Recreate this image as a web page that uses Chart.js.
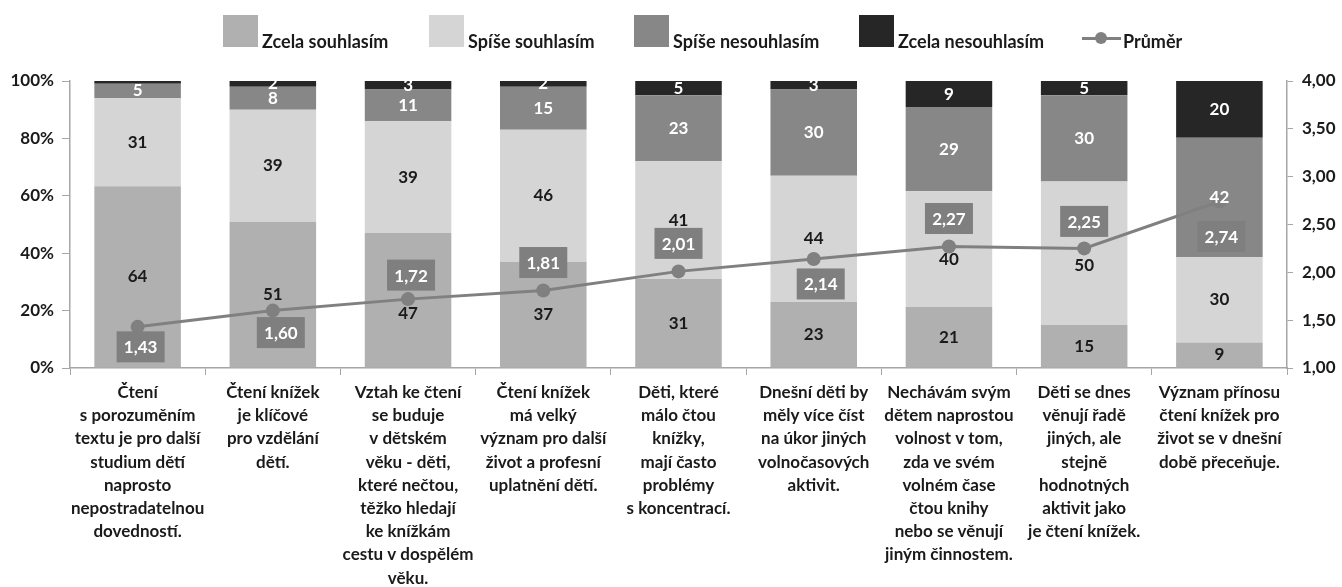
<!DOCTYPE html>
<html lang="cs">
<head>
<meta charset="utf-8">
<title>Čtení knížek</title>
<script src="https://cdn.jsdelivr.net/npm/chart.js@4/dist/chart.umd.min.js"></script>
<style>
    html, body { margin: 0; padding: 0; background: #fff; }
    #wrap { position: relative; width: 1342px; height: 587px; }
    #legend { position: absolute; top: 15px; left: 0; width: 1342px; height: 32px;
              font: bold 18px Lato, "Open Sans", sans-serif; color: #1a1a1a; }
    #legend .item { position: absolute; top: 0; height: 32px; display: flex; align-items: flex-end; white-space: nowrap; }
    #legend .box { width: 35px; height: 32px; margin-right: 4px; }
    #legend .txt { line-height: 18px; margin-bottom: -3px; }
    #legend .line { width: 39px; height: 12px; position: relative; margin-right: 2px; margin-bottom: 3px; }
    #legend .line::before { content: ''; position: absolute; left: 0; right: 0; top: 5px; height: 3px; background: #808080; }
    #legend .line::after { content: ''; position: absolute; left: 13px; top: 0; width: 12px; height: 12px; border-radius: 50%; background: #808080; }
</style>
</head>
<body>
<div id="wrap">
    <canvas id="chart" width="1342" height="587"></canvas>
    <div id="legend"></div>
</div>
<script>
// --- data ---
const categories = [
    ['Čtení', 's porozuměním', 'textu je pro další', 'studium dětí', 'naprosto', 'nepostradatelnou', 'dovedností.'],
    ['Čtení knížek', 'je klíčové', 'pro vzdělání', 'dětí.'],
    ['Vztah ke čtení', 'se buduje', 'v dětském', 'věku - děti,', 'které nečtou,', 'těžko hledají', 'ke knížkám', 'cestu v dospělém', 'věku.'],
    ['Čtení knížek', 'má velký', 'význam pro další', 'život a profesní', 'uplatnění dětí.'],
    ['Děti, které', 'málo čtou', 'knížky,', 'mají často', 'problémy', 's koncentrací.'],
    ['Dnešní děti by', 'měly více číst', 'na úkor jiných', 'volnočasových', 'aktivit.'],
    ['Nechávám svým', 'dětem naprostou', 'volnost v tom,', 'zda ve svém', 'volném čase', 'čtou knihy', 'nebo se věnují', 'jiným činnostem.'],
    ['Děti se dnes', 'věnují řadě', 'jiných, ale', 'stejně', 'hodnotných', 'aktivit jako', 'je čtení knížek.'],
    ['Význam přínosu', 'čtení knížek pro', 'život se v dnešní', 'době přeceňuje.']
];
const zcelaSouhlasim   = [64, 51, 47, 37, 31, 23, 21, 15, 9];
const spiseSouhlasim   = [31, 39, 39, 46, 41, 44, 40, 50, 30];
const spiseNesouhlasim = [5, 8, 11, 15, 23, 30, 29, 30, 42];
const zcelaNesouhlasim = [1, 2, 3, 2, 5, 3, 9, 5, 20];
const prumer           = [1.43, 1.60, 1.72, 1.81, 2.01, 2.14, 2.27, 2.25, 2.74];

const leftTicks  = { min: 0, max: 100, step: 20 };
const rightTicks = { min: 1, max: 4, step: 0.5 };

// label placement for the average boxes (offset from point, px)
const avgLabelShift = [[3, 20], [8, 22], [3, -24], [0, -28], [0, -28], [7, 25], [0, -28], [0, -27], [2, 35]];
// a few segment labels sit a bit lower than centre ("series-category": px)
const segLabelNudge = { '0-2': 13, '1-6': 10, '1-7': 12 };
// legend item left edges
const legendLeft = [223, 429, 634, 859, 1082];

const FONT = 'Lato, "Open Sans", sans-serif';
const INK = '#1a1a1a';
const AXIS = '#a6a6a6';

const barSeries = [
    { label: 'Zcela souhlasím',   values: zcelaSouhlasim,   color: '#b0b0b0', text: INK },
    { label: 'Spíše souhlasím',   values: spiseSouhlasim,   color: '#d5d5d5', text: INK },
    { label: 'Spíše nesouhlasím', values: spiseNesouhlasim, color: '#878787', text: '#ffffff' },
    { label: 'Zcela nesouhlasím', values: zcelaNesouhlasim, color: '#262626', text: '#ffffff' }
];
const lineColor = '#808080';

// 100 % stacked: each category normalised by its own total
const totals = categories.map((_, i) => barSeries.reduce((acc, s) => acc + s.values[i], 0));

// --- legend (html) ---
const legendEl = document.getElementById('legend');
barSeries.forEach((s, i) => {
    legendEl.insertAdjacentHTML('beforeend',
        `<div class="item" style="left:${legendLeft[i]}px"><div class="box" style="background:${s.color}"></div><span class="txt">${s.label}</span></div>`);
});
legendEl.insertAdjacentHTML('beforeend',
    `<div class="item" style="left:${legendLeft[4]}px"><div class="line"></div><span class="txt">Průměr</span></div>`);

const labelsPlugin = {
    id: 'valueLabels',
    afterDatasetsDraw(chart) {
        const ctx = chart.ctx;
        ctx.save();
        ctx.textAlign = 'center';
        ctx.textBaseline = 'middle';
        ctx.font = `bold 17px ${FONT}`;

        barSeries.forEach((s, di) => {
            const meta = chart.getDatasetMeta(di);
            meta.data.forEach((bar, i) => {
                const v = s.values[i];
                if (v < 2) return;
                const nudge = segLabelNudge[di + '-' + i] || 0;
                ctx.fillStyle = s.text;
                ctx.fillText(String(v), bar.x, (bar.y + bar.base) / 2 + nudge);
            });
        });

        const lineMeta = chart.getDatasetMeta(barSeries.length);
        lineMeta.data.forEach((pt, i) => {
            const [dx, dy] = avgLabelShift[i];
            const cx = pt.x + dx, cy = pt.y + dy;
            ctx.fillStyle = '#7f7f7f';
            ctx.fillRect(cx - 24, cy - 15.5, 48, 31);
            ctx.fillStyle = '#ffffff';
            ctx.fillText(prumer[i].toFixed(2).replace('.', ','), cx, cy + 1);
        });
        ctx.restore();
    }
};

const tickFont = { family: FONT, size: 17, weight: 'bold' };

new Chart(document.getElementById('chart').getContext('2d'), {
    type: 'bar',
    data: {
        labels: categories,
        datasets: [
            ...barSeries.map(s => ({
                label: s.label,
                data: s.values.map((v, i) => v / totals[i] * 100),
                backgroundColor: s.color,
                borderWidth: 0,
                stack: 'answers',
                yAxisID: 'y',
                order: 1,
                categoryPercentage: 1,
                barPercentage: 0.64
            })),
            {
                type: 'line',
                label: 'Průměr',
                data: prumer,
                yAxisID: 'y2',
                borderColor: lineColor,
                backgroundColor: lineColor,
                borderWidth: 3,
                pointRadius: 7,
                pointBackgroundColor: lineColor,
                pointBorderWidth: 0,
                tension: 0,
                order: 0
            }
        ]
    },
    options: {
        responsive: false,
        animation: false,
        events: [],
        layout: { padding: { top: 81, left: 0, right: 0, bottom: 0 } },
        plugins: {
            legend: { display: false },
            tooltip: { enabled: false }
        },
        scales: {
            x: {
                stacked: true,
                grid: { offset: true, drawOnChartArea: false, color: AXIS, tickLength: 7 },
                border: { color: AXIS, width: 1.5 },
                ticks: {
                    color: INK,
                    font: { family: FONT, size: 17, weight: 'bold', lineHeight: '23.2px' },
                    maxRotation: 0,
                    autoSkip: false,
                    padding: 6
                },
                afterFit: s => { s.height = 219; }
            },
            y: {
                stacked: true,
                position: 'left',
                min: leftTicks.min,
                max: leftTicks.max,
                grid: { drawOnChartArea: false, color: AXIS, tickLength: 8 },
                border: { color: AXIS, width: 1.5 },
                ticks: {
                    stepSize: leftTicks.step,
                    color: INK,
                    font: tickFont,
                    padding: 8,
                    callback: v => v + '%'
                },
                afterFit: s => { s.width = 70; }
            },
            y2: {
                position: 'right',
                min: rightTicks.min,
                max: rightTicks.max,
                grid: { drawOnChartArea: false, color: AXIS, tickLength: 6 },
                border: { color: AXIS, width: 1.5 },
                ticks: {
                    stepSize: rightTicks.step,
                    color: INK,
                    font: tickFont,
                    padding: 9,
                    callback: v => v.toFixed(2).replace('.', ',')
                },
                afterFit: s => { s.width = 55; }
            }
        }
    },
    plugins: [labelsPlugin]
});
</script>
</body>
</html>
